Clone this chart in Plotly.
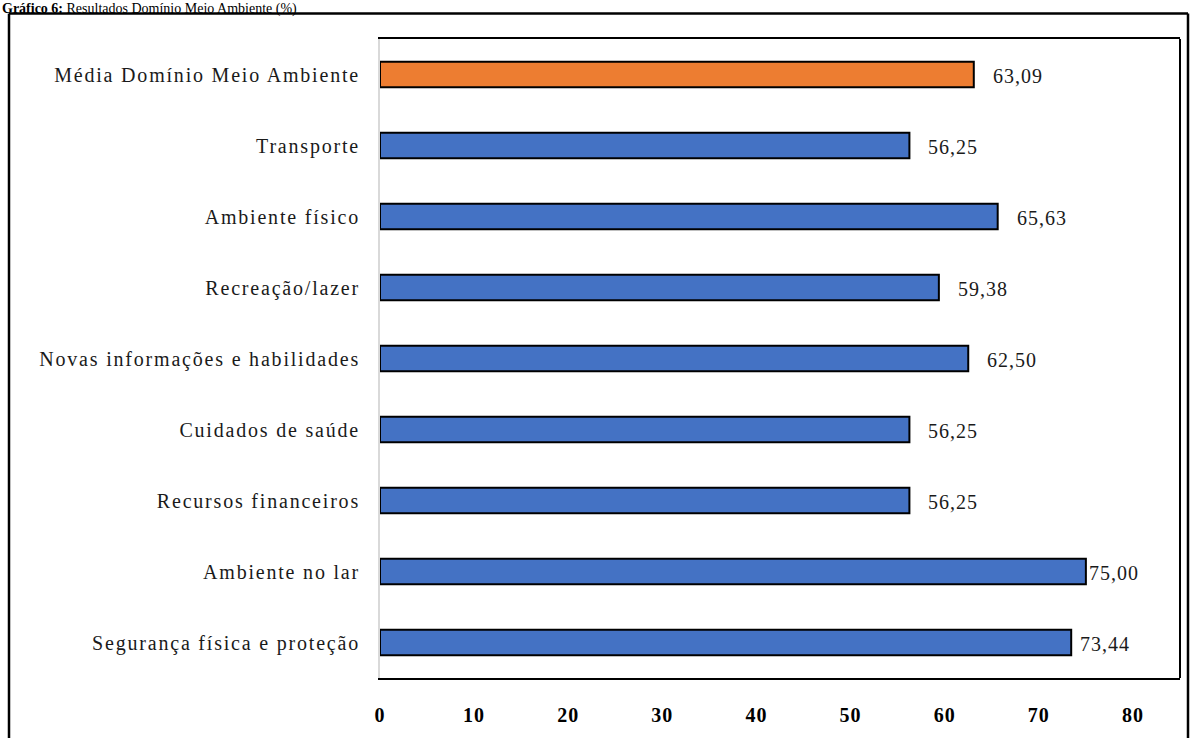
import plotly.graph_objects as go

# Environment domain results (%), listed top to bottom
categories = [
    "Média Domínio Meio Ambiente",
    "Transporte",
    "Ambiente físico",
    "Recreação/lazer",
    "Novas informações e habilidades",
    "Cuidados de saúde",
    "Recursos financeiros",
    "Ambiente no lar",
    "Segurança física e proteção",
]
values = [63.09, 56.25, 65.63, 59.38, 62.50, 56.25, 56.25, 75.00, 73.44]
x_ticks = [0, 10, 20, 30, 40, 50, 60, 70, 80]

BLUE = "#4472C4"
ORANGE = "#ED7D31"
colors = [ORANGE] + [BLUE] * (len(categories) - 1)

# horizontal offset (px) between bar end and its value label
label_gap = [17, 17, 17, 17, 17, 17, 17, 1, 7]

W, H = 1197, 738
ML, MR, MT, MB = 380, 17, 39, 47
PW, PH = W - ML - MR, H - MT - MB


def px_x(px):
    return (px - ML) / PW


def px_y(py):
    return (H - MB - py) / PH


def spaced(text, ls):
    return f'<span style="letter-spacing:{ls}px">{text}</span>'


SERIF = "Liberation Serif, Times New Roman, serif"

fig = go.Figure(
    go.Bar(
        x=values,
        y=categories,
        orientation="h",
        marker=dict(color=colors, line=dict(color="#000000", width=2)),
        hoverinfo="skip",
    )
)

# value labels with decimal comma
for cat, v, gap in zip(categories, values, label_gap):
    fig.add_annotation(
        x=v, y=cat, xref="x", yref="y",
        text=spaced(f"{v:.2f}".replace(".", ","), 1),
        showarrow=False, xanchor="left", yanchor="middle",
        xshift=gap, yshift=-1,
        font=dict(family=SERIF, size=20, color="#1a1a1a"),
    )

# title line above the outer frame
fig.add_annotation(
    x=px_x(0), y=px_y(0), xref="paper", yref="paper",
    text="<b>Gráfico 6:</b> Resultados Domínio Meio Ambiente (%)",
    showarrow=False, xanchor="left", yanchor="top", yshift=2,
    font=dict(family=SERIF, size=14, color="#000000"),
)

frame = dict(color="#000000", width=2.5)
shapes = [
    # outer chart frame (left, top, right edges; bottom runs past the page)
    dict(type="line", xref="paper", yref="paper",
         x0=px_x(9), x1=px_x(9), y0=px_y(760), y1=px_y(13), line=frame),
    dict(type="line", xref="paper", yref="paper",
         x0=px_x(9), x1=px_x(1188), y0=px_y(13), y1=px_y(13), line=frame),
    dict(type="line", xref="paper", yref="paper",
         x0=px_x(1188), x1=px_x(1188), y0=px_y(760), y1=px_y(13), line=frame),
    # right border of plot area
    dict(type="line", xref="paper", yref="paper",
         x0=1, x1=1, y0=0, y1=1,
         line=dict(color="#000000", width=2), layer="above"),
]

fig.update_layout(
    width=W, height=H,
    margin=dict(l=ML, r=MR, t=MT, b=MB, pad=0),
    paper_bgcolor="#ffffff", plot_bgcolor="#ffffff",
    showlegend=False,
    bargap=0.64,
    shapes=shapes,
    xaxis=dict(
        range=[0, 85],
        tickvals=x_ticks,
        ticktext=[spaced(f"<b>{t}</b>", 1) for t in x_ticks],
        ticks="", showgrid=False, zeroline=False,
        showline=True, mirror=True, linecolor="#000000", linewidth=2,
        ticklabelstandoff=18,
        tickfont=dict(family=SERIF, size=20, color="#000000"),
    ),
    yaxis=dict(
        autorange="reversed",
        tickvals=categories,
        ticktext=[spaced(c, 1.8) for c in categories],
        ticks="", showgrid=False, zeroline=False,
        showline=True, linecolor="#d9d9d9", linewidth=2,
        ticklabelstandoff=14,
        tickfont=dict(family=SERIF, size=20, color="#1a1a1a"),
    ),
)

fig.write_html("out.html")
